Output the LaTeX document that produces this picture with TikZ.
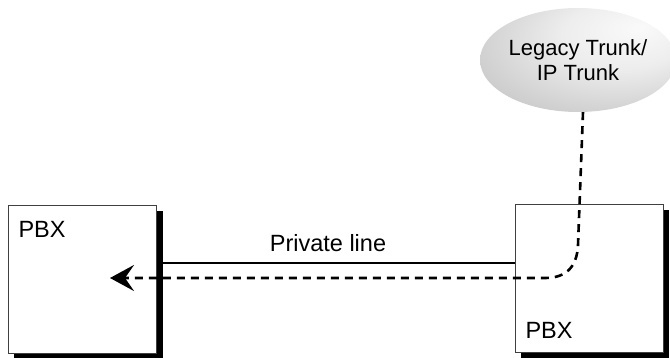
\documentclass[tikz,border=0pt]{standalone}
\usepackage{fontspec}
\setmainfont{Liberation Sans}
\usetikzlibrary{arrows.meta,backgrounds,shapes.geometric}
\pgfdeclareradialshading{trunkshade}{\pgfpoint{16bp}{16bp}}{color(0bp)=(gray!4); color(16bp)=(gray!14); color(45bp)=(gray!52); color(65bp)=(gray!65)}
\begin{document}
\begin{tikzpicture}[x=1pt,y=-1pt,
  pbx/.style={draw=black!75, line width=0.8pt, fill=white, minimum width=148pt, minimum height=148pt, inner sep=0pt},
  shadowfill/.style={fill=black},
  lbl/.style={font=\fontsize{23.5}{28}\selectfont},
  tlbl/.style={font=\fontsize{22}{25}\selectfont},
  link/.style={line width=2.6pt},
  dlink/.style={line width=2.6pt, dash pattern=on 8pt off 6pt}]
\useasboundingbox (0,0) rectangle (670,358);
\node[pbx] (lbox) at (82,279) {};
\node[pbx] (rbox) at (589,278) {};
\begin{scope}[on background layer]
  \fill[shadowfill] ([shift={(6.5pt,-6pt)}]lbox.south west) rectangle ([shift={(6.5pt,-6pt)}]lbox.north east);
  \fill[shadowfill] ([shift={(6pt,-6pt)}]rbox.south west) rectangle ([shift={(6pt,-6pt)}]rbox.north east);
\end{scope}
\node[lbl, anchor=base west] (lpbx) at (15,238) {PBX};
\node[lbl, anchor=base west] (rpbx) at (522,338) {PBX};
\node[lbl, anchor=base] (pl) at (328,252) {Private line};
\node[ellipse, minimum width=180pt, minimum height=104pt, shading=trunkshade, inner sep=0pt, align=center, tlbl] (trunk) at (578,60) {Legacy Trunk/\\IP Trunk};
\coordinate (ls) at (162,263);
\coordinate (rs) at (515,263);
\coordinate (bend) at (578,245);
\coordinate (corner) at (545,278);
\coordinate (tip) at (110,278);
\draw[link] (ls) -- (rs);
\draw[dlink, -{Stealth[length=24pt,width=26pt,inset=9pt]}] ([xshift=5pt]trunk.south) -- (bend) .. controls (577,268) and (565,278) .. (corner) -- (tip);
\end{tikzpicture}
\end{document}
